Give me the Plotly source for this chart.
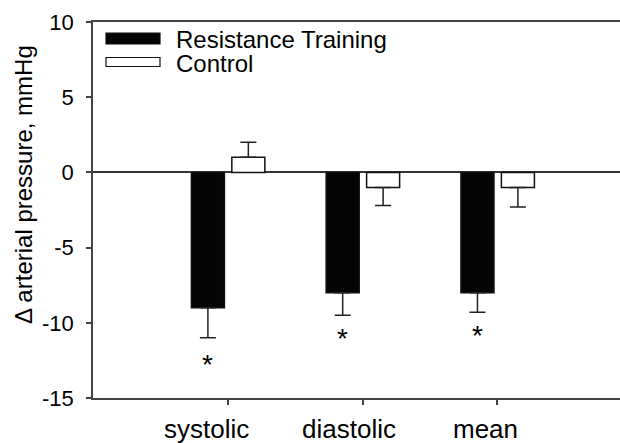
import plotly.graph_objects as go

# ---- data ----
categories = ["systolic", "diastolic", "mean"]
series_names = ["Resistance Training", "Control"]
rt_values = [-9.0, -8.0, -8.0]
rt_errors = [2.0, 1.5, 1.3]
ctrl_values = [1.0, -1.0, -1.0]
ctrl_errors = [1.0, 1.2, 1.3]
significant = [True, True, True]
y_ticks = [10, 5, 0, -5, -10, -15]

FONT = "Liberation Sans, Arial, Helvetica, sans-serif"
W, H = 620, 443
ML, MR, MT, MB = 93, 0, 22, 45
PW, PH = W - ML - MR, H - MT - MB

def px_x(p):
    return (p - ML) / PW

def px_y(p):
    return (H - MB - p) / PH

xs = list(range(len(categories)))
BW = 0.245

def one_sided(vals, errs):
    up = [e if v >= 0 else 0 for v, e in zip(vals, errs)]
    down = [e if v < 0 else 0 for v, e in zip(vals, errs)]
    return up, down

fig = go.Figure()
for name, vals, errs, fill, off in [
    (series_names[0], rt_values, rt_errors, "#050505", -0.27),
    (series_names[1], ctrl_values, ctrl_errors, "#ffffff", 0.03),
]:
    up, down = one_sided(vals, errs)
    fig.add_trace(go.Bar(
        x=xs, y=vals, name=name, width=BW, offset=off,
        marker=dict(color=fill, line=dict(color="#111111", width=1.5)),
        error_y=dict(type="data", symmetric=False, array=up, arrayminus=down,
                     color="#222222", thickness=1.5, width=8),
        showlegend=False,
    ))

annotations = []
star_pad = [20, 16, 16]  # pixel gap below the error bar end
for i, (v, e, s, pad) in enumerate(zip(rt_values, rt_errors, significant, star_pad)):
    if s:
        annotations.append(dict(
            x=i - 0.27 + BW / 2, y=v - e, xref="x", yref="y",
            text="*", showarrow=False, font=dict(family=FONT, size=28, color="black"),
            xanchor="center", yanchor="middle", yshift=-(pad + 7),
        ))

# category labels (drawn slightly left of their ticks, as in the original)
label_shift = [-21, -14, -12]
for i, (c, sh) in enumerate(zip(categories, label_shift)):
    annotations.append(dict(
        x=i, y=px_y(429), xref="x", yref="paper", text=c, showarrow=False,
        xanchor="center", yanchor="middle", xshift=sh,
        font=dict(family=FONT, size=26, color="black"),
    ))

# y-axis title
annotations.append(dict(
    x=px_x(24), y=px_y(185), xref="paper", yref="paper",
    text="\u0394 arterial pressure, mmHg", textangle=-90, showarrow=False,
    font=dict(family=FONT, size=24, color="black"),
    xanchor="center", yanchor="middle",
))

# manual legend
shapes = []
legend_rows = [
    (series_names[0], "#050505", 33, 44, 40),
    (series_names[1], "#ffffff", 57.5, 66.5, 63),
]
for name, fill, top, bot, cy in legend_rows:
    shapes.append(dict(type="rect", xref="paper", yref="paper",
                       x0=px_x(106), x1=px_x(160), y0=px_y(bot), y1=px_y(top),
                       fillcolor=fill, line=dict(color="#111111", width=1.2)))
    annotations.append(dict(x=px_x(174), y=px_y(cy), xref="paper", yref="paper",
                            text=name, showarrow=False, xanchor="left", yanchor="middle",
                            font=dict(family=FONT, size=24, color="black")))

fig.update_layout(
    width=W, height=H,
    margin=dict(l=ML, r=MR, t=MT, b=MB, pad=0),
    paper_bgcolor="white", plot_bgcolor="white",
    barmode="overlay",
    font=dict(family=FONT, color="black"),
    shapes=shapes, annotations=annotations,
)
fig.update_xaxes(
    range=[-1.0, 2.91], tickmode="array", tickvals=xs, ticktext=categories,
    showticklabels=False, automargin=False,
    showgrid=False, zeroline=False, showline=True, linecolor="#444444", linewidth=1.5,
    mirror=True, ticks="outside", ticklen=5, tickwidth=1.5, tickcolor="#444444",
)
fig.update_yaxes(
    range=[-15, 10], tickmode="array", tickvals=y_ticks, ticktext=[str(t) for t in y_ticks],
    automargin=False,
    showgrid=False, zeroline=True, zerolinecolor="#333333", zerolinewidth=1.5,
    showline=True, linecolor="#444444", linewidth=1.5,
    ticks="outside", ticklen=5, tickwidth=1.5, tickcolor="#444444",
    tickfont=dict(family=FONT, size=22, color="black"), ticklabelstandoff=8,
)

fig.write_html(
    "out.html",
    config={"displayModeBar": False},
    post_script=(
        "var st=document.createElement('style');"
        "st.textContent='html,body{margin:0;padding:0;overflow:hidden;scrollbar-width:none;}"
        "::-webkit-scrollbar{display:none;width:0;height:0;}';"
        "document.head.appendChild(st);"
    ),
)
